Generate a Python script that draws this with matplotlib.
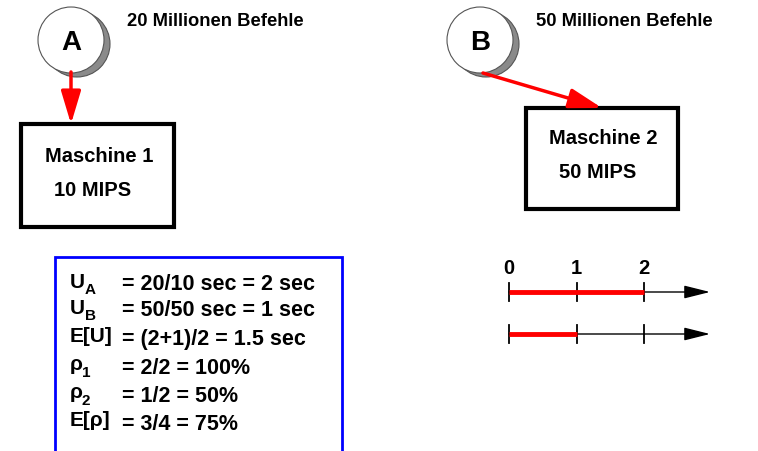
import matplotlib
matplotlib.use("Agg")
import matplotlib.pyplot as plt
from matplotlib.patches import Circle, Rectangle, FancyArrowPatch

plt.rcParams['font.family'] = ['Liberation Sans', 'DejaVu Sans']

# ---- data ----
jobs = ["A", "B"]
job_sizes = ["20 Millionen Befehle", "50 Millionen Befehle"]
machines = ["Maschine 1", "Maschine 2"]
machine_speeds = ["10 MIPS", "50 MIPS"]
formula_labels = [("U", "A"), ("U", "B"), ("E[U]", ""), ("ρ", "1"), ("ρ", "2"), ("E[ρ]", "")]
formula_values = ["= 20/10 sec = 2 sec", "= 50/50 sec = 1 sec", "= (2+1)/2 = 1.5 sec",
                  "= 2/2 = 100%", "= 1/2 = 50%", "= 3/4 = 75%"]
time_ticks = [0, 1, 2]
busy_times = [2, 1]   # machine 1 busy 2 sec, machine 2 busy 1 sec

W, H = 758, 451
fig = plt.figure(figsize=(W / 100, H / 100), dpi=100)
ax = fig.add_axes([0, 0, 1, 1])
ax.set_xlim(0, W)
ax.set_ylim(H, 0)
ax.axis("off")

# ---- job circles ----
circ_centers = [(71, 40), (480, 40)]
for (cx, cy), lab, size, tx in zip(circ_centers, jobs, job_sizes, [127, 536]):
    ax.add_patch(Circle((cx + 6, cy + 4), 33, facecolor="#8a8a8a", edgecolor="#555555", lw=0.8, zorder=1))
    ax.add_patch(Circle((cx, cy), 33, facecolor="white", edgecolor="#555555", lw=0.8, zorder=2))
    ax.text(cx, cy + 3, lab, fontsize=20, fontweight="bold", ha="center", va="center", zorder=3)
    ax.text(tx, 22, size, fontsize=13.2, fontweight="bold", ha="left", va="center")

# ---- machine boxes ----
boxes = [(21, 124, 153, 103), (526, 108, 152, 101)]
text_pos = [((99, 157), (93, 190)), ((603, 139), (598, 173))]
for (x, y, w, h), m, s, (p1, p2) in zip(boxes, machines, machine_speeds, text_pos):
    ax.add_patch(Rectangle((x, y), w, h, facecolor="white", edgecolor="black", lw=3, zorder=2))
    ax.text(p1[0], p1[1], m, fontsize=14.5, fontweight="bold", ha="center", va="center", zorder=3)
    ax.text(p2[0], p2[1], s, fontsize=14.5, fontweight="bold", ha="center", va="center", zorder=3)

# ---- arrows ----
for (x0, y0), (x1, y1) in [((71, 72), (71, 124)), ((483, 73), (602, 108))]:
    ax.add_patch(FancyArrowPatch((x0, y0), (x1, y1), arrowstyle="-|>,head_length=20,head_width=6",
                                 mutation_scale=1, color="#ff0000", lw=2.5, shrinkA=0, shrinkB=0, zorder=4))

# ---- formula box ----
ax.plot([55, 55, 342, 342], [452, 257, 257, 452], color="#0000ff", lw=2, solid_capstyle="butt",
        solid_joinstyle="miter", clip_on=False)
line_y = [285, 311, 340, 368, 396, 424]
for (lab, sub), val, y in zip(formula_labels, formula_values, line_y):
    ax.text(70, y - 3, lab, fontsize=15, fontweight="bold", ha="left", va="center")
    if sub:
        sx = 85 if lab == "U" else 82
        ax.text(sx, y + 5, sub, fontsize=11, fontweight="bold", ha="left", va="center")
    ax.text(122, y, val, fontsize=15.5, fontweight="bold", ha="left", va="center")

# ---- timelines ----
x0, unit = 509, 67.5
def tx(t):
    return x0 + t * unit

for t in time_ticks:
    ax.text(tx(t), 268, str(t), fontsize=14.5, fontweight="bold", ha="center", va="center")

for y, busy in zip([292, 334], busy_times):
    ax.add_patch(FancyArrowPatch((tx(0), y), (710, y), arrowstyle="-|>,head_length=16,head_width=4",
                                 mutation_scale=1, color="black", lw=1, shrinkA=0, shrinkB=0, zorder=2))
    for t in time_ticks:
        ax.plot([tx(t), tx(t)], [y - 9, y + 9], color="black", lw=1.3, zorder=3)
    ax.plot([tx(0), tx(busy)], [y, y], color="#ff0000", lw=3.5, solid_capstyle="butt", zorder=4)

fig.savefig("out.png", dpi=100)
